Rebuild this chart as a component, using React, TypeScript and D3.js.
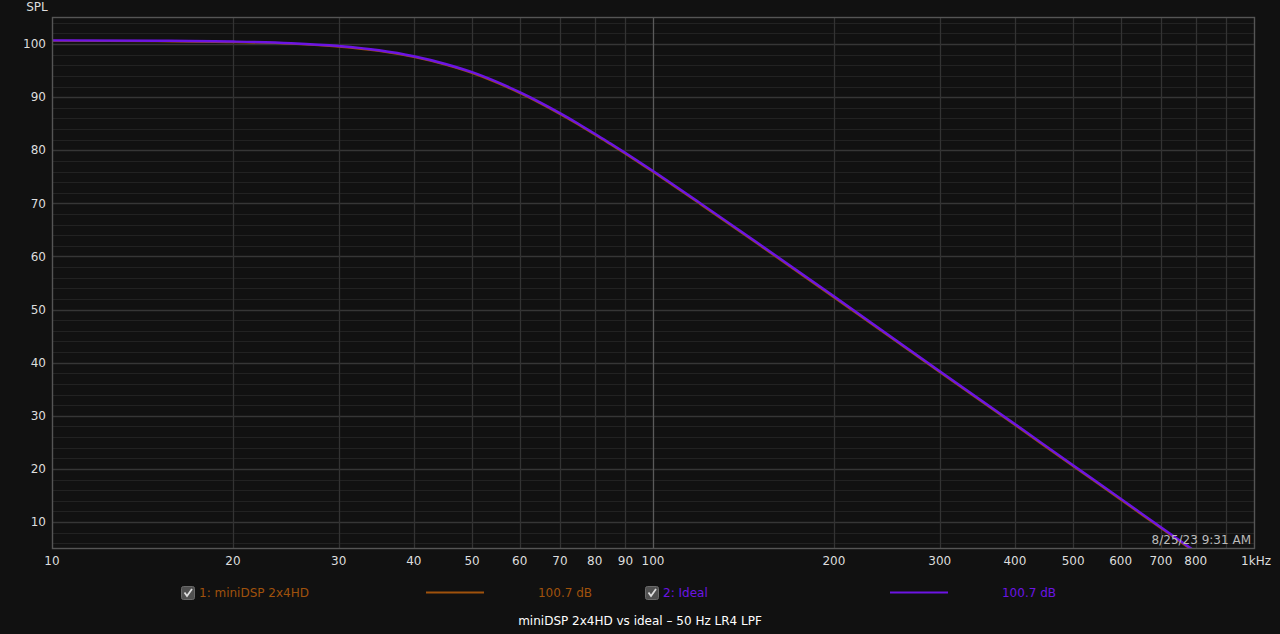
import React from "react";
import * as d3 from "d3";

const freqs = [10, 15, 20, 25, 30, 35, 40, 45, 50, 55, 60, 65, 70, 75, 80, 85, 90, 100, 120, 150, 200, 300, 400, 500, 600, 700, 800, 900];
const idealSpl = [100.7, 100.63, 100.48, 100.17, 99.64, 98.83, 97.7, 96.3, 94.7, 92.87, 90.95, 88.98, 87.0, 85.05, 83.1, 81.28, 79.5, 76.1, 70.0, 62.4, 52.5, 38.4, 28.45, 20.7, 14.4, 9.0, 4.4, 0.3];
const minidspSpl = [100.7, 100.62, 100.46, 100.14, 99.6, 98.78, 97.64, 96.23, 94.62, 92.79, 90.86, 88.9, 86.92, 84.97, 83.02, 81.2, 79.42, 76.0, 69.9, 62.3, 52.4, 38.3, 28.35, 20.6, 14.3, 8.9, 4.3, 0.2];

const xMajorTicks = [10, 20, 30, 40, 50, 60, 70, 80, 90, 100, 200, 300, 400, 500, 600, 700, 800, 1000];
const xTickLabels = ["10", "20", "30", "40", "50", "60", "70", "80", "90", "100", "200", "300", "400", "500", "600", "700", "800", "1kHz"];
const xGridLines = [20, 30, 40, 50, 60, 70, 80, 90, 200, 300, 400, 500, 600, 700, 800, 900];
const yTicks = [10, 20, 30, 40, 50, 60, 70, 80, 90, 100];
const yMinor = [6, 8, 12, 14, 16, 18, 22, 24, 26, 28, 32, 34, 36, 38, 42, 44, 46, 48, 52, 54, 56, 58, 62, 64, 66, 68, 72, 74, 76, 78, 82, 84, 86, 88, 92, 94, 96, 98, 102, 104];

const seriesNames = ["1: miniDSP 2x4HD", "2: Ideal"];
const seriesValues = ["100.7 dB", "100.7 dB"];
const seriesColors = ["#a0520c", "#6c14e4"];

const W = 1280, H = 634;
const L = 52, R = 1254, T = 17, B = 548;
const FONT = "'DejaVu Sans', Verdana, sans-serif";

export default function App() {
  const x = d3.scaleLog().domain([10, 1000]).range([L, R]);
  const y = d3.scaleLinear().domain([5.1, 105.1]).range([B, T]);
  const line = d3.line<number>()
    .x((_, i) => x(freqs[i]))
    .y((d) => y(d))
    .curve(d3.curveMonotoneX);

  return (
    <div style={{ position: "fixed", left: 0, top: 0, width: W, height: H, background: "#111111" }}>
      <svg width={W} height={H} style={{ display: "block" }} fontFamily={FONT}>
        <defs>
          <clipPath id="plotclip">
            <rect x={L} y={T} width={R - L} height={B - T} />
          </clipPath>
        </defs>
        <rect x={0} y={0} width={W} height={H} fill="#111111" />
        {yMinor.map((v) => (
          <line key={"ym" + v} x1={L} x2={R} y1={Math.round(y(v)) + 0.5} y2={Math.round(y(v)) + 0.5} stroke="#222222" strokeWidth={1} />
        ))}
        {yTicks.map((v) => (
          <line key={"yM" + v} x1={L} x2={R} y1={Math.round(y(v)) + 0.5} y2={Math.round(y(v)) + 0.5} stroke="#363636" strokeWidth={1.3} />
        ))}
        {xGridLines.map((v) => (
          <line key={"xg" + v} x1={Math.round(x(v)) + 0.5} x2={Math.round(x(v)) + 0.5} y1={T} y2={B} stroke="#333333" strokeWidth={1.3} />
        ))}
        <line x1={Math.round(x(100)) + 0.5} x2={Math.round(x(100)) + 0.5} y1={T} y2={B} stroke="#5a5a5a" strokeWidth={1.3} />
        <g clipPath="url(#plotclip)">
          <path d={line(minidspSpl) || ""} fill="none" stroke={seriesColors[0]} strokeWidth={2.2} transform="translate(0,0.4)" />
          <path d={line(idealSpl) || ""} fill="none" stroke={seriesColors[1]} strokeWidth={2.4} />
        </g>
        <rect x={L + 0.5} y={T + 0.5} width={R - L} height={B - T} fill="none" stroke="#555555" strokeWidth={1.4} />
        {yTicks.map((v) => (
          <text key={"yl" + v} x={46} y={y(v)} dy="0.35em" textAnchor="end" fill="#dddddd" fontSize={12}>{v}</text>
        ))}
        <text x={37} y={7} dy="0.35em" textAnchor="middle" fill="#dddddd" fontSize={12}>SPL</text>
        {xMajorTicks.map((v, i) => (
          <text key={"xl" + v} x={i === xMajorTicks.length - 1 ? x(v) + 2 : x(v)} y={561} dy="0.35em" textAnchor="middle" fill="#dddddd" fontSize={12}>{xTickLabels[i]}</text>
        ))}
        <text x={1251} y={540} dy="0.35em" textAnchor="end" fill="#bbbbbb" fontSize={12}>8/25/23 9:31 AM</text>
        {[0, 1].map((i) => {
          const cx = i === 0 ? 181 : 645;
          const lx = i === 0 ? 426 : 890;
          const vx = i === 0 ? 565 : 1029;
          return (
            <g key={"lg" + i}>
              <rect x={cx + 0.5} y={586.5} width={13} height={13} rx={2} fill="#505050" stroke="#6a6a6a" />
              <path d={`M${cx + 3.5},${592.5} L${cx + 6},${596} L${cx + 11},${589}`} fill="none" stroke="#dddddd" strokeWidth={1.8} />
              <text x={cx + 18} y={592.5} dy="0.35em" fill={seriesColors[i]} fontSize={12}>{seriesNames[i]}</text>
              <line x1={lx} x2={lx + 58} y1={592.5} y2={592.5} stroke={seriesColors[i]} strokeWidth={2} />
              <text x={vx} y={592.5} dy="0.35em" textAnchor="middle" fill={seriesColors[i]} fontSize={12}>{seriesValues[i]}</text>
            </g>
          );
        })}
        <text x={640} y={621} dy="0.35em" textAnchor="middle" fill="#ffffff" fontSize={12}>miniDSP 2x4HD vs ideal – 50 Hz LR4 LPF</text>
      </svg>
    </div>
  );
}
